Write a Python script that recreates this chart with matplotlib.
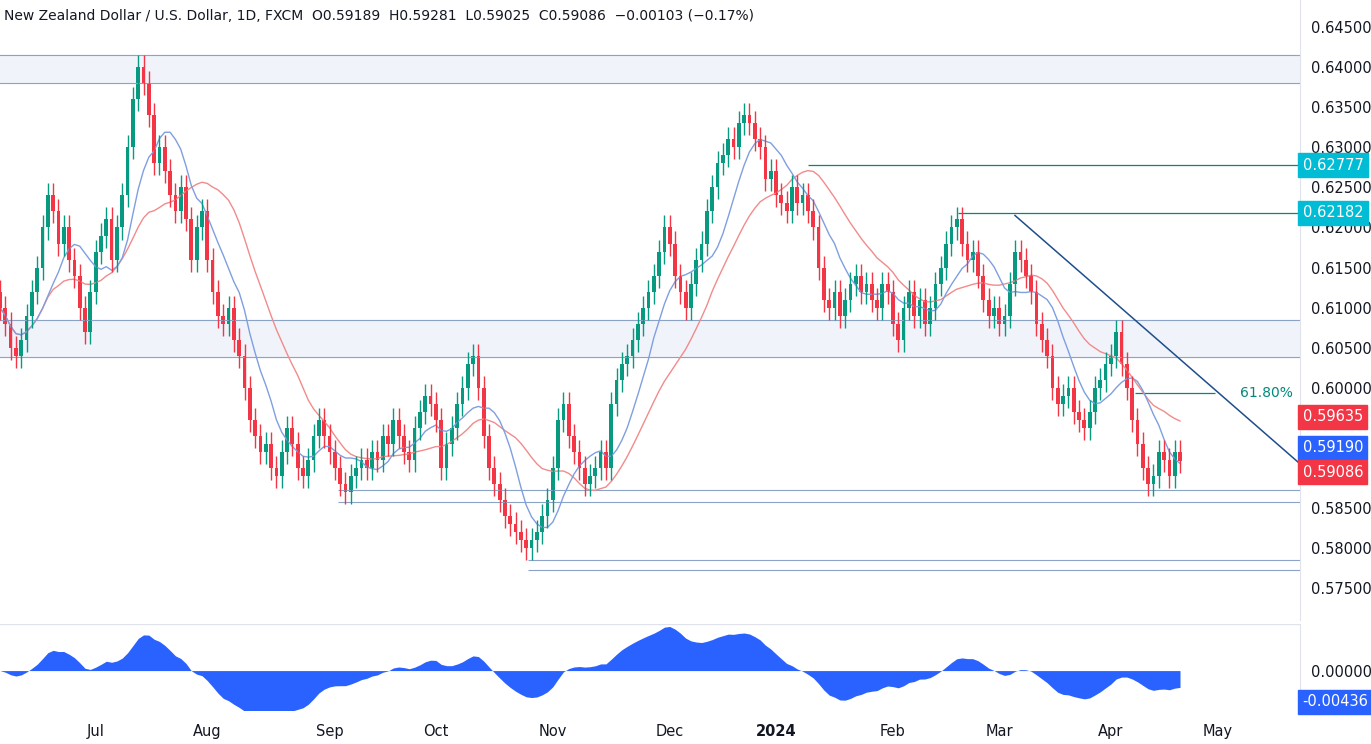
import numpy as np
import pandas as pd
from matplotlib import pyplot as plt

# daily closes (Jun 2023 .. Apr 2024)
closes_jun = [0.610, 0.608, 0.605, 0.604, 0.606, 0.609, 0.612, 0.615, 0.620, 0.624, 0.622, 0.618, 0.620, 0.616,
              0.614, 0.610, 0.607, 0.612]
closes_jul = [0.617, 0.619, 0.621, 0.616, 0.620, 0.624, 0.630, 0.636, 0.640, 0.638, 0.634, 0.628, 0.630, 0.627,
              0.624, 0.622, 0.625, 0.621, 0.616, 0.620, 0.622]
closes_aug = [0.616, 0.612, 0.609, 0.608, 0.610, 0.606, 0.604, 0.600, 0.596, 0.594, 0.592, 0.593, 0.590, 0.589,
              0.592, 0.595, 0.593, 0.590, 0.589, 0.591, 0.594, 0.596, 0.594]
closes_sep = [0.592, 0.590, 0.588, 0.587, 0.589, 0.590, 0.591, 0.590, 0.592, 0.591, 0.594, 0.593, 0.596, 0.594,
              0.592, 0.591, 0.595, 0.597, 0.599, 0.598]
closes_oct = [0.596, 0.590, 0.593, 0.595, 0.598, 0.600, 0.603, 0.604, 0.600, 0.594, 0.590, 0.588, 0.586, 0.584,
              0.583, 0.582, 0.581, 0.580, 0.581, 0.582, 0.584, 0.586]
closes_nov = [0.590, 0.596, 0.598, 0.594, 0.592, 0.590, 0.588, 0.589, 0.590, 0.592, 0.590, 0.598, 0.601, 0.603,
              0.604, 0.606, 0.608, 0.610, 0.612, 0.614, 0.617, 0.620]
closes_dec = [0.618, 0.614, 0.612, 0.610, 0.613, 0.616, 0.618, 0.622, 0.625, 0.628, 0.629, 0.631, 0.630, 0.633,
              0.634, 0.633, 0.631, 0.630, 0.626, 0.627]
closes_jan = [0.624, 0.623, 0.622, 0.625, 0.623, 0.624, 0.622, 0.620, 0.615, 0.611, 0.610, 0.612, 0.609, 0.611,
              0.613, 0.614, 0.612, 0.613, 0.611, 0.610, 0.613, 0.612]
closes_feb = [0.608, 0.606, 0.610, 0.612, 0.609, 0.611, 0.608, 0.610, 0.613, 0.615, 0.618, 0.620, 0.621, 0.618,
              0.616, 0.617, 0.614, 0.611, 0.609, 0.610]
closes_mar = [0.608, 0.609, 0.613, 0.617, 0.616, 0.614, 0.612, 0.608, 0.606, 0.604, 0.600, 0.598, 0.599, 0.600,
              0.597, 0.596, 0.595, 0.597, 0.600, 0.601, 0.603]
closes_apr = [0.604, 0.607, 0.603, 0.600, 0.596, 0.593, 0.590, 0.588, 0.589, 0.592, 0.591, 0.589, 0.592, 0.59086]

month_labels = ["Jul", "Aug", "Sep", "Oct", "Nov", "Dec", "2024", "Feb", "Mar", "Apr", "May"]
price_ticks = [0.575, 0.580, 0.585, 0.600, 0.605, 0.610, 0.615, 0.620, 0.625, 0.630, 0.635, 0.640, 0.645]

months = [closes_jun, closes_jul, closes_aug, closes_sep, closes_oct, closes_nov,
          closes_dec, closes_jan, closes_feb, closes_mar, closes_apr]
close = np.array(sum(months, []))
n = len(close)
x = np.arange(n)
opn = np.r_[close[0] + 0.002, close[:-1]]
wick = 0.0015
high = np.maximum(opn, close) + wick
low = np.minimum(opn, close) - wick

s = pd.Series(close)
ma_fast = s.rolling(9, min_periods=1).mean()
ma_slow = s.rolling(20, min_periods=1).mean()
osc = (s - s.rolling(20, min_periods=1).mean()).ewm(span=8).mean() * 0.4

GREEN = "#089981"
RED = "#f23645"
BLUE = "#2962ff"

fig = plt.figure(figsize=(13.71, 7.44), dpi=100)
ax = fig.add_axes([0, 124 / 744, 1300 / 1371, 620 / 744])
ax2 = fig.add_axes([0, 34 / 744, 1300 / 1371, 86 / 744])

bar_px = 1180 / (n - 1)
xmax = 1300 / bar_px
for a in (ax, ax2):
    a.set_xlim(0, xmax)
    for sp in ("top", "left", "bottom"):
        a.spines[sp].set_visible(False)
    a.spines["right"].set_color("#e0e3eb")
    a.yaxis.tick_right()
    a.tick_params(axis="y", length=0, labelsize=10.5, colors="#131722", pad=8)

ax.set_ylim(0.5710, 0.6484)


def px(p):
    return p / bar_px


# zones and levels
ax.axhspan(0.6380, 0.6415, color="#f0f3fa", zorder=0)
for lv in (0.6380, 0.6415):
    ax.axhline(lv, color="#8ba3c7", lw=0.8)
ax.axhspan(0.6038, 0.6085, color="#f0f3fa", zorder=0)
for lv in (0.6038, 0.6085):
    ax.axhline(lv, color="#8ba3c7", lw=0.8)
ax.hlines([0.5872, 0.5857], px(338), xmax, color="#8ba3c7", lw=0.8)
ax.hlines([0.5785, 0.5772], px(528), xmax, color="#8ba3c7", lw=0.8)
ax.hlines(0.62777, px(808), xmax, color="#00897b", lw=0.9)
ax.hlines(0.62182, px(958), xmax, color="#00897b", lw=0.9)
ax.plot([px(1015), xmax], [0.6215, 0.5905], color="#1e4e8c", lw=1.1)
ax.hlines(0.5993, px(1135), px(1215), color="#00897b", lw=0.9)
ax.text(px(1240), 0.5993, "61.80%", color="#00897b", va="center", fontsize=10)

ax.plot(x, ma_slow, color="#f28b8b", lw=1)
ax.plot(x, ma_fast, color="#7f9fe0", lw=1)

# candles
for i in range(n):
    c = GREEN if close[i] >= opn[i] else RED
    ax.vlines(x[i], low[i], high[i], color=c, lw=1)
    ax.bar(x[i], abs(close[i] - opn[i]) or 0.0002, bottom=min(opn[i], close[i]), width=0.7, color=c)

ax.set_yticks(price_ticks)
ax.set_yticklabels([f"{t:.5f}" for t in price_ticks])
ax.set_xticks([])


def tag(a, y, txt, col, dy=0):
    a.text(1.002, y + dy, txt, transform=a.get_yaxis_transform(), color="white", fontsize=10.5,
           va="center", ha="left", bbox=dict(boxstyle="square,pad=0.3", fc=col, ec=col))


tag(ax, 0.62777, "0.62777", "#00bcd4")
tag(ax, 0.62182, "0.62182", "#00bcd4")
tag(ax, 0.59635, "0.59635", RED)
tag(ax, 0.59190, "0.59190", BLUE, dy=0.0006)
tag(ax, 0.59086, "0.59086", RED, dy=-0.0014)

ax.text(0.003, 0.985, "New Zealand Dollar / U.S. Dollar, 1D, FXCM  O0.59189  H0.59281  L0.59025  C0.59086  −0.00103 (−0.17%)",
        transform=ax.transAxes, fontsize=10, va="top", color="#131722")

# oscillator
ax2.fill_between(x, 0, osc, color=BLUE, lw=0)
ax2.set_ylim(-0.0055, 0.0065)
ax2.set_yticks([0.0])
ax2.set_yticklabels(["0.00000"])
tag(ax2, -0.00436, "-0.00436", BLUE)
ax2.axhline(0.0065, color="#e0e3eb", lw=1)

# month ticks
starts = np.cumsum([len(m) for m in months])
ax2.set_xticks(list(starts[:-1]) + [starts[-1] + 6])
ax2.set_xticklabels(month_labels, fontsize=10.5, color="#131722")
for lbl in ax2.get_xticklabels():
    if lbl.get_text() == "2024":
        lbl.set_fontweight("bold")
ax2.tick_params(axis="x", length=0, pad=10)

fig.savefig("out.png", dpi=100)
